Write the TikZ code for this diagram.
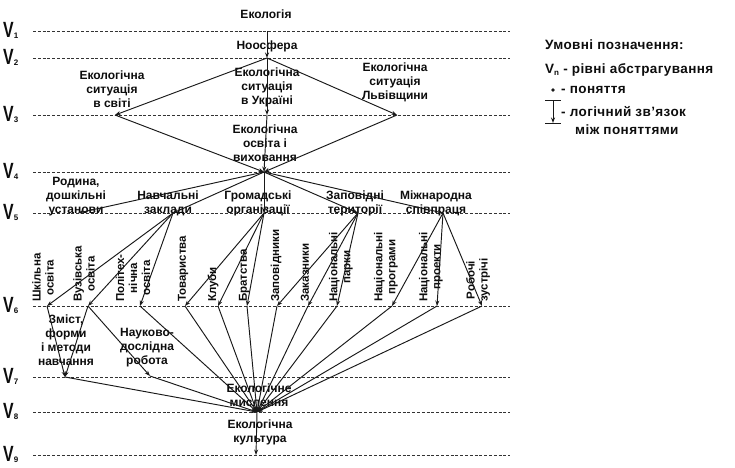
\documentclass[tikz,border=0pt]{standalone}
\usepackage{fontspec}
\usepackage{graphicx}
\setmainfont{Liberation Sans}
\usetikzlibrary{arrows.meta}
\begin{document}
\begin{tikzpicture}[x=1pt,y=-1pt,
  lvl/.style={draw=black!80, line width=0.7pt, dash pattern=on 3pt off 1.8pt},
  lnk/.style={draw=black!90, line width=0.95pt, -{Stealth[length=5.5pt,width=4pt]}},
  lbl/.style={font=\fontsize{12}{14}\selectfont\bfseries, align=center, inner sep=0pt, text=black!95},
  vlbl/.style={font=\fontsize{11.5}{13}\selectfont\bfseries, align=center, inner sep=0pt, text=black!95, rotate=90, anchor=west},
  leg/.style={font=\fontsize{13.5}{15}\selectfont\bfseries\addfontfeatures{LetterSpace=3}, inner sep=0pt, anchor=west, text=black!95},
  vname/.style={inner sep=0pt, anchor=base west, text=black!95},
  pt/.style={fill=black!90, circle, inner sep=0pt, minimum size=3.6pt}
]
\fill[white] (0,0) rectangle (735,467);
\useasboundingbox (0,0) rectangle (735,467);

% levels
\foreach \n/\y in {1/31,2/58,3/115,4/172,5/213,6/306,7/377,8/412,9/455}{
  \draw[lvl] (33,\y) -- (510,\y);
  \node[vname] (V\n) at (3,\y+6) {\scalebox{0.72}[1]{\fontsize{22}{22}\selectfont\bfseries V}\raisebox{-1pt}{\fontsize{8}{8}\selectfont\bfseries\n}};
}

% concept points
\coordinate (p1) at (267,31);
\coordinate (p2) at (267,58);
\coordinate (s1) at (115,115);
\coordinate (s2) at (267,115);
\coordinate (s3) at (397,115);
\coordinate (o) at (264,172);
\coordinate (r1) at (78,213);
\coordinate (r2) at (173,213);
\coordinate (r3) at (264,213);
\coordinate (r4) at (358,213);
\coordinate (r5) at (443,213);
\foreach \i/\x in {1/47,2/88,3/140,4/185,5/218,6/247,7/277,8/308,9/337,10/392,11/437,12/482}{
  \coordinate (q\i) at (\x,306);
}
\coordinate (m1) at (65,377);
\coordinate (m2) at (150,376);
\coordinate (t) at (257,412);
\coordinate (k) at (256,455);

% labels
\node[lbl] (lEco) at (266,14) {Екологія};
\node[lbl] (lNoo) at (267,46) {Ноосфера};
\node[lbl] (lS1) at (112,89) {Екологічна\\ситуація\\в світі};
\node[lbl] (lS2) at (267,87) {Екологічна\\ситуація\\в Україні};
\node[lbl] (lS3) at (395,82) {Екологічна\\ситуація\\Львівщини};
\node[lbl] (lO) at (265,143) {Екологічна\\освіта і\\виховання};
\node[lbl] (lR1) at (76,197) {Родина,\\дошкільні\\установи};
\node[lbl] (lR2) at (168,203) {Навчальні\\заклади};
\node[lbl] (lR3) at (258,203) {Громадські\\організації};
\node[lbl] (lR4) at (355,203) {Заповідні\\території};
\node[lbl] (lR5) at (436,203) {Міжнародна\\співпраця};
\node[vlbl] (lQ1) at (43,302) {Шкільна\\освіта};
\node[vlbl] (lQ2) at (84,302) {Вузівська\\освіта};
\node[vlbl] (lQ3) at (133,302) {Політех-\\нічна\\освіта};
\node[vlbl] (lQ4) at (183,302) {Товариства};
\node[vlbl] (lQ5) at (213,302) {Клуби};
\node[vlbl] (lQ6) at (244,302) {Братства};
\node[vlbl] (lQ7) at (276,302) {Заповідники};
\node[vlbl] (lQ8) at (305,302) {Заказники};
\node[vlbl] (lQ9) at (341,302) {Національні\\парки};
\node[vlbl] (lQ10) at (386,302) {Національні\\програми};
\node[vlbl] (lQ11) at (431,302) {Національні\\проекти};
\node[vlbl] (lQ12) at (478,302) {Робочі\\зустрічі};
\node[lbl] (lM1) at (66,340) {Зміст,\\форми\\і методи\\навчання};
\node[lbl] (lM2) at (147,348) {Науково-\\дослідна\\робота};
\node[lbl] (lT) at (259,395) {Екологічне\\мислення};
\node[lbl] (lK) at (260,432) {Екологічна\\культура};

% links
\draw[lnk] (p1) -- (p2);
\foreach \s in {s1,s2,s3}{ \draw[lnk] (p2) -- (\s); \draw[lnk] (\s) -- (o); }
\foreach \r in {r1,r2,r3,r4,r5}{ \draw[lnk] (o) -- (\r); }
\foreach \q in {q1,q2,q3}{ \draw[lnk] (r2) -- (\q); }
\foreach \q in {q4,q5,q6}{ \draw[lnk] (r3) -- (\q); }
\foreach \q in {q7,q8,q9}{ \draw[lnk] (r4) -- (\q); }
\foreach \q in {q10,q11,q12}{ \draw[lnk] (r5) -- (\q); }
\draw[lnk] (q1) -- (m1);
\draw[lnk] (q2) -- (m1);
\draw[lnk] (q2) -- (m2);
\foreach \q in {m1,m2,q3,q4,q5,q6,q7,q8,q9,q10,q11,q12}{ \draw[lnk] (\q) -- (t); }
\draw[lnk] (t) -- (k);

% legend
\node[leg] (legT) at (545,45) {Умовні позначення:};
\node[leg] (legV) at (545,70) {V\raisebox{-2pt}{\fontsize{8}{8}\selectfont n} - рівні абстрагування};
\node[pt] (legDot) at (553,90) {};
\node[leg] (legP) at (561,90) {- поняття};
\coordinate (legA) at (553,100);
\coordinate (legB) at (553,123);
\draw[black!90, line width=0.8pt] ([xshift=-8pt]legA) -- ([xshift=8pt]legA);
\draw[black!90, line width=0.8pt] ([xshift=-8pt]legB) -- ([xshift=8pt]legB);
\draw[lnk] (legA) -- (legB);
\node[leg] (legL) at (561,112) {- логічний зв'язок};
\node[leg] (legM) at (575,130) {між поняттями};
\end{tikzpicture}
\end{document}
